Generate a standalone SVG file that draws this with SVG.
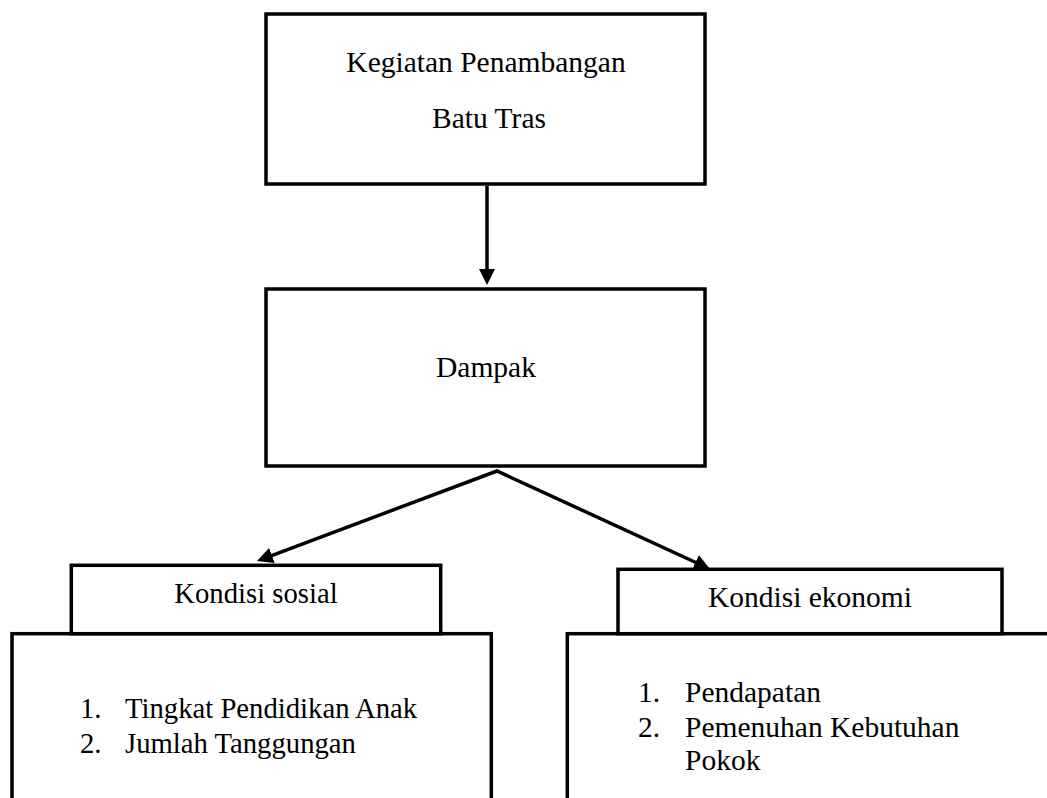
<svg xmlns="http://www.w3.org/2000/svg" width="1047" height="798" viewBox="0 0 1047 798">
  <style>
    .box { fill: #ffffff; stroke: #000000; stroke-width: 3.5; }
    .t { font-family: "Liberation Serif", "Times New Roman", serif; font-size: 29.5px; fill: #000000; }
    .s { font-size: 28.7px; }
    .c { text-anchor: middle; }
    .conn { stroke: #000000; stroke-width: 3.5; fill: none; stroke-linejoin: miter; }
  </style>
  <defs>
    <marker id="ah" markerUnits="userSpaceOnUse" markerWidth="16" markerHeight="16" refX="4" refY="8" orient="auto-start-reverse">
      <path d="M0,0 L16,8 L0,16 z" fill="#000000"/>
    </marker>
  </defs>
  <rect width="1047" height="798" fill="#ffffff"/>

  <g id="node-kegiatan">
    <rect class="box" x="266" y="14" width="439" height="170"/>
    <text class="t c" x="486" y="72">Kegiatan Penambangan</text>
    <text class="t c" x="489" y="128">Batu Tras</text>
  </g>

  <g id="node-dampak">
    <rect class="box" x="266" y="289" width="439" height="177"/>
    <text class="t c" x="486" y="377">Dampak</text>
  </g>

  <g id="node-sosial-list">
    <rect class="box" x="12" y="633.7" width="479.3" height="200"/>
    <text class="t s" x="80" y="718">1.</text>
    <text class="t s" x="125" y="718">Tingkat Pendidikan Anak</text>
    <text class="t s" x="80" y="753">2.</text>
    <text class="t s" x="125" y="753">Jumlah Tanggungan</text>
  </g>

  <g id="node-sosial">
    <rect class="box" x="71.3" y="565.3" width="369.4" height="68.4"/>
    <text class="t s c" x="256" y="603">Kondisi sosial</text>
  </g>

  <g id="node-ekonomi-list">
    <rect class="box" x="567.3" y="633.7" width="500" height="200"/>
    <text class="t" x="638" y="702">1.</text>
    <text class="t" x="685" y="702">Pendapatan</text>
    <text class="t" x="638" y="737">2.</text>
    <text class="t" x="685" y="737">Pemenuhan Kebutuhan</text>
    <text class="t" x="685" y="770">Pokok</text>
  </g>

  <g id="node-ekonomi">
    <rect class="box" x="618" y="569.3" width="384" height="64.4"/>
    <text class="t c" x="810" y="607">Kondisi ekonomi</text>
  </g>

  <g id="connectors">
    <line class="conn" x1="487" y1="186" x2="487" y2="273" marker-end="url(#ah)"/>
    <polyline class="conn" points="268.2,556.8 497,471 699.1,564" marker-start="url(#ah)" marker-end="url(#ah)"/>
  </g>
</svg>
